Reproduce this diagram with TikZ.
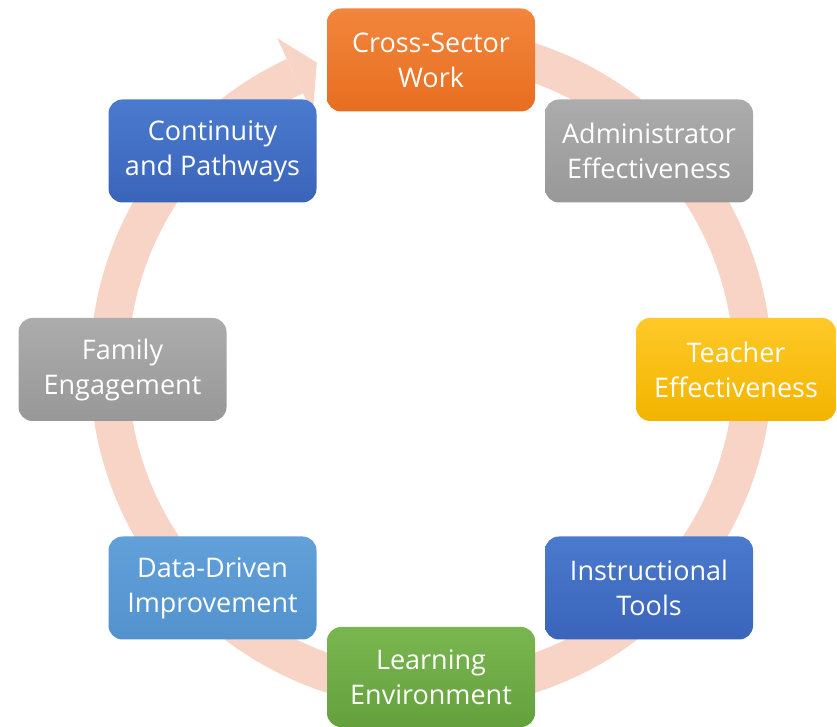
\documentclass[tikz,border=0pt]{standalone}
\usepackage{fontspec}
\setmainfont{Open Sans}
\usepackage{xcolor}
\usetikzlibrary{calc}
\definecolor{lRing}{RGB}{248,212,199}
\definecolor{oTop}{RGB}{242,134,60}
\definecolor{oBot}{RGB}{231,110,32}
\definecolor{gTop}{RGB}{172,172,172}
\definecolor{gBot}{RGB}{152,152,152}
\definecolor{yTop}{RGB}{255,201,40}
\definecolor{yBot}{RGB}{242,180,0}
\definecolor{bTop}{RGB}{74,122,206}
\definecolor{bBot}{RGB}{58,100,186}
\definecolor{lbTop}{RGB}{98,160,218}
\definecolor{lbBot}{RGB}{84,146,206}
\definecolor{grTop}{RGB}{122,182,80}
\definecolor{grBot}{RGB}{100,160,60}
\tikzset{
  stage/.style={rounded corners=14pt, minimum width=208pt, minimum height=103pt,
    inner sep=0pt, text=white, align=center,
    font=\fontsize{27}{35}\selectfont},
  orangebox/.style={stage, top color=oTop, bottom color=oBot},
  graybox/.style={stage, top color=gTop, bottom color=gBot},
  yellowbox/.style={stage, top color=yTop, bottom color=yBot},
  bluebox/.style={stage, top color=bTop, bottom color=bBot},
  lbluebox/.style={stage, top color=lbTop, bottom color=lbBot},
  greenbox/.style={stage, top color=grTop, bottom color=grBot},
  ringline/.style={draw=lRing, line width=38pt}
}

\begin{document}
\begin{tikzpicture}[x=1pt, y=1pt]
        \useasboundingbox (0,0) rectangle (837,727);
        \coordinate (c) at (431,359);
        % the cycle ring with its head
        \draw [ringline] (c) ++(100:322) arc [start angle=100, end angle=-245, radius=322];
        \fill [lRing] ($(c)+(115:280)$) -- ($(c)+(110.5:326)$) -- ($(c)+(115:364)$) -- cycle;
        % the eight stages
        \node (work) at (431,667) [orangebox] {Cross-Sector\\Work};
        \node (admin) at (649,576) [graybox] {Administrator\\Effectiveness};
        \node (teacher) at (736,357.5) [yellowbox, minimum width=200pt] {Teacher\\Effectiveness};
        \node (tools) at (649,139) [bluebox] {Instructional\\Tools};
        \node (env) at (431,50) [greenbox, minimum height=100pt] {Learning\\Environment};
        \node (data) at (212.5,139) [lbluebox] {Data-Driven\\Improvement};
        \node (family) at (122.5,357.5) [graybox] {Family\\Engagement};
        \node (cont) at (212.5,576) [bluebox] {Continuity\\and Pathways};
      \end{tikzpicture}
\end{document}
